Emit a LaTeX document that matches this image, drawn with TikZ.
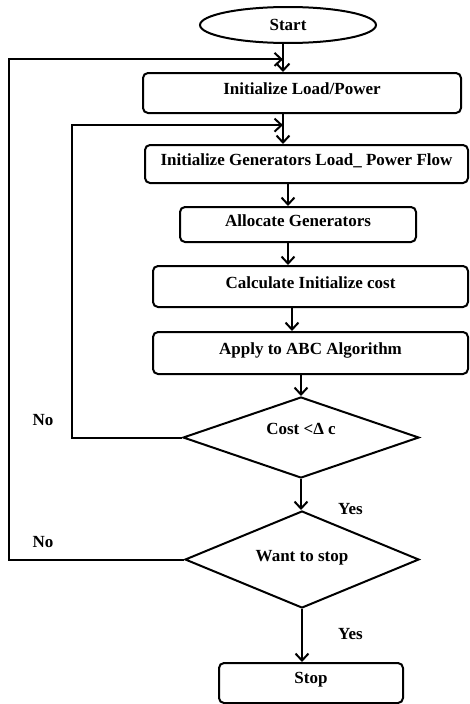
\documentclass[tikz,border=0pt]{standalone}
\usepackage{fontspec}
\setmainfont{Liberation Serif}
\usepackage{xcolor}
\usepackage{tikz}
\usetikzlibrary{arrows.meta,positioning,shapes.geometric}

\begin{document}
\begin{tikzpicture}[
  x=1pt, y=1pt,
  node distance=66pt,
  on grid,
  font=\fontsize{17}{20}\selectfont\bfseries,
  % Node styles
  terminal/.style={ellipse, draw=black, line width=2pt, inner sep=0pt, minimum width=176pt, minimum height=36pt},
  process/.style={rectangle, rounded corners=5pt, draw=black, line width=2pt, inner sep=2pt, align=center, text depth=8pt},
  decision/.style={diamond, draw=black, line width=2pt, inner sep=0pt, align=center},
  answer/.style={inner sep=0pt},
  arr/.style={-{Straight Barb[length=7pt, width=13pt]}, line width=2pt, color=black}
]

  \useasboundingbox (0,0) rectangle (469,-704);

  % ============================================
  % Main flow
  % ============================================

  \node[terminal] (start) at (288,-25) {Start};
  \node[process, below=68pt of start, xshift=14pt, minimum width=318pt, minimum height=40pt] (load) {Initialize Load/Power};
  \node[process, below=71pt of load, xshift=4.5pt, minimum width=323pt, minimum height=38pt] (gen) {Initialize Generators Load\_ Power Flow};
  \node[process, below=60.5pt of gen, xshift=-8.5pt, minimum width=236pt, minimum height=35pt] (alloc) {Allocate Generators};
  \node[process, below=62pt of alloc, xshift=12.5pt, minimum width=315pt, minimum height=41pt] (cost) {Calculate Initialize cost};
  \node[process, below=66.5pt of cost, minimum width=315pt, minimum height=42pt] (abc) {Apply to ABC Algorithm};

  % Decisions
  \node[decision, below=84.5pt of abc, xshift=-9.5pt, aspect=2.9, minimum width=236pt, minimum height=81pt, text depth=17pt] (check) {Cost <Δ c};
  \node[decision, below=122pt of check, xshift=1pt, aspect=2.4, minimum width=234pt, minimum height=97pt, text depth=7pt] (want) {Want to stop};

  \node[process, below=123.5pt of want, xshift=9pt, minimum width=184pt, minimum height=40pt, text depth=10pt] (stop) {Stop};

  % Branch labels
  \node[answer, left=139pt of check.west, yshift=17.5pt, anchor=center] (no1) {No};
  \node[answer, left=141pt of want.west, yshift=17.5pt, anchor=center] (no2) {No};
  \node[answer, right=48.5pt of want.north, yshift=1pt, anchor=center] (yes1) {Yes};
  \node[answer, right=48.5pt of want.south, yshift=-25pt, anchor=center] (yes2) {Yes};

  % ============================================
  % Edges
  % ============================================

  \draw[arr] ([xshift=-5pt]start.south) -- coordinate[pos=0.55] (in1) ([xshift=-5pt]start.south |- load.north);
  \draw[arr] ([xshift=-19pt]load.south) -- coordinate[pos=0.37] (in2) ([xshift=-19pt]load.south |- gen.north);
  \draw[arr] ([xshift=-18.5pt]gen.south) -- ([xshift=-18.5pt]gen.south |- alloc.north);
  \draw[arr] ([xshift=-10pt]alloc.south) -- ([xshift=-10pt]alloc.south |- cost.north);
  \draw[arr] ([xshift=-18.5pt]cost.south) -- ([xshift=-18.5pt]cost.south |- abc.north);
  \draw[arr] (abc.south -| check.north) -- (check.north);
  \draw[arr] (check.south) -- (check.south |- want.north);
  \draw[arr] (want.south) -- (want.south |- stop.north);

  % Loops back
  \draw[arr] (check.west) -- ++(-110,0) |- (in2);
  \draw[arr] (want.west) -- ++(-175,0) |- (in1);

\end{tikzpicture}
\end{document}
